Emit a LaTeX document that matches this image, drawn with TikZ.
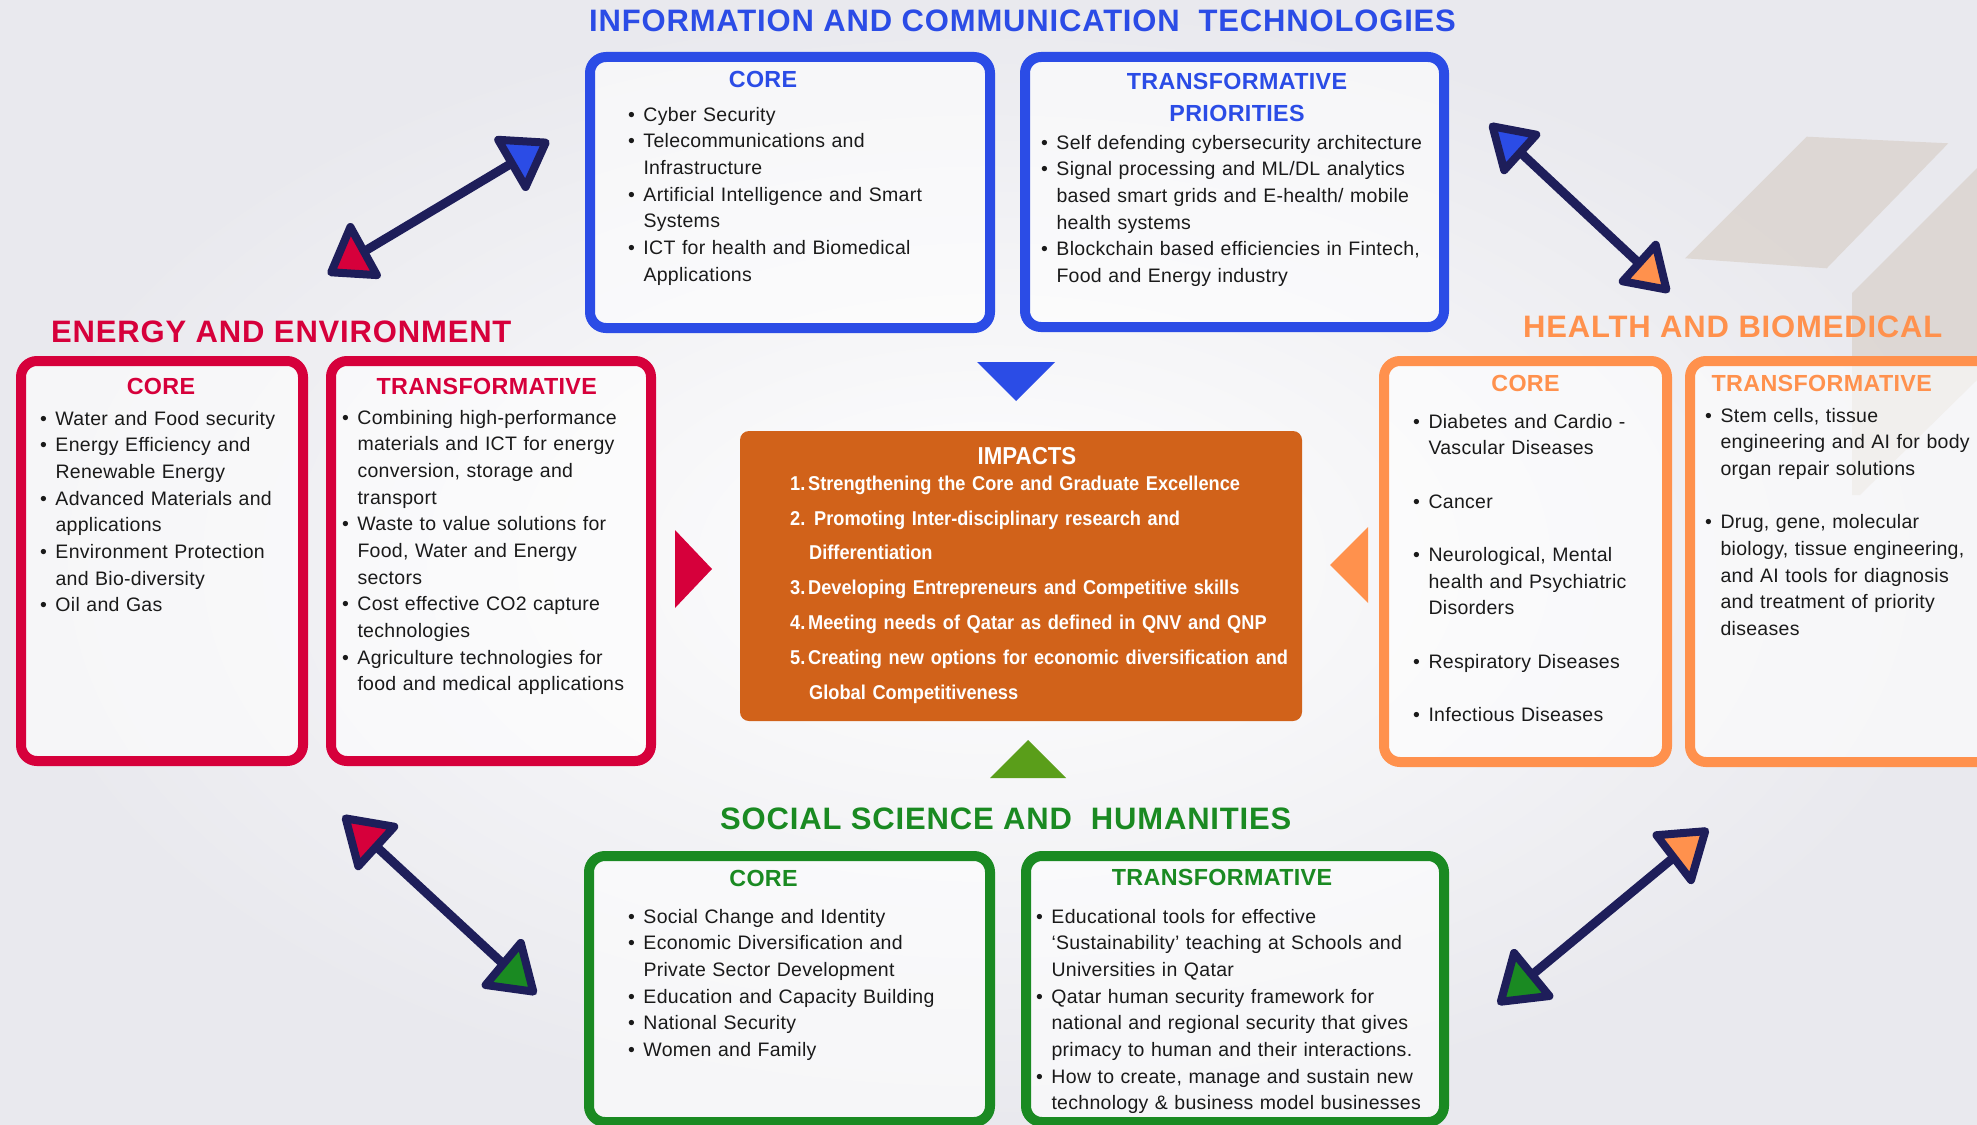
\documentclass[tikz,border=0pt]{standalone}
\usepackage{fontspec}
\setmainfont{Liberation Sans}
\newfontfamily\bodyf[LetterSpace=1.5]{Liberation Sans}
\newfontfamily\headf[LetterSpace=1.5]{Liberation Sans}
\newfontfamily\ttlf[LetterSpace=2.7]{Liberation Sans}
\newfontfamily\impf[FakeStretch=0.91]{Liberation Sans}
\newcommand\bfirst{\hangindent=15.5pt\hangafter=1\rule{0pt}{15pt}\makebox[15.5pt][l]{\textbullet}}
\newcommand\bi{\par\noindent\bfirst}
\newcommand\blankln{\par\noindent\mbox{}}
\newcommand\nl{\newline}
\definecolor{bgc}{HTML}{E9E9EE}
\definecolor{ictc}{HTML}{2B4CE6}
\definecolor{enc}{HTML}{D6003B}
\definecolor{hlc}{HTML}{FF914D}
\definecolor{soc}{HTML}{1A8A22}
\definecolor{navy}{HTML}{1E1E5A}
\definecolor{impc}{HTML}{D1621A}
\definecolor{txtc}{HTML}{1A1A1A}
\definecolor{beige}{HTML}{DCD5D0}
\definecolor{olive}{HTML}{5A9E1A}
\begin{document}
\begin{tikzpicture}[x=1pt,y=-1pt,
  box/.style={draw=#1, line width=10pt, rounded corners=16pt, fill=white, fill opacity=0.6, draw opacity=1, inner sep=0pt, outer sep=0pt},
  lst/.style={anchor=north west, inner sep=0pt, outer sep=0pt, text width=420pt, align=left, text=txtc,
    font={\bodyf\fontsize{19.5}{26.67}\selectfont\parindent=0pt\parskip=0pt}},
  hd/.style={anchor=base, inner sep=0pt, font={\headf\bfseries\fontsize{23.3}{28}\selectfont}},
  ttl/.style={anchor=base west, inner sep=0pt, font={\ttlf\bfseries\fontsize{31}{36}\selectfont}},
  shaft/.style={draw=navy, line width=9pt},
  tip/.style={fill=#1, draw=navy, line width=8pt, line join=round},
  pointer/.style={fill=#1, draw=none}
]
\useasboundingbox (0,0) rectangle (1977,1124);
\clip (0,0) rectangle (1977,1124);
% background
\fill[bgc] (0,0) rectangle (1977,1124);
\shade[inner color=white, outer color=bgc] (0,0) rectangle (1977,1124);
\fill[beige, opacity=0.85] (1806.7,136.7) -- (1948.3,143.3) -- (1826.7,268.3) -- (1685,258.3) -- cycle;
\fill[beige, opacity=0.85] (1852,293) -- (1977,168) -- (1977,380) -- (1860,495) -- (1852,495) -- cycle;

% section titles
\node[ttl, text=ictc] (tict) at (589,32) {INFORMATION AND COMMUNICATION\ \ TECHNOLOGIES};
\node[ttl, text=enc] (tene) at (51,342) {ENERGY AND ENVIRONMENT};
\node[ttl, text=hlc] (thl) at (1523,337) {HEALTH AND BIOMEDICAL};
\node[ttl, text=soc] (tsoc) at (720,829) {SOCIAL SCIENCE AND\ \ HUMANITIES};

% boxes
\node[box=ictc, minimum width=400pt, minimum height=271pt] (ictcore) at (790,192.5) {};
\node[box=ictc, minimum width=419pt, minimum height=270pt] (icttr) at (1234.5,192) {};
\node[box=enc, minimum width=282pt, minimum height=400pt] (encore) at (162,561) {};
\node[box=enc, minimum width=320pt, minimum height=400pt] (entr) at (491,561) {};
\node[box=hlc, minimum width=283pt, minimum height=401pt] (hlcore) at (1525.5,561.5) {};
\node[box=hlc, minimum width=350pt, minimum height=401pt] (hltr) at (1865,561.5) {};
\node[box=soc, minimum width=401pt, minimum height=266pt] (socore) at (789.5,989) {};
\node[box=soc, minimum width=418pt, minimum height=266pt] (sotr) at (1235,989) {};

% headings
\node[hd, text=ictc] (hictc) at (763,87.3) {CORE};
\node[hd, text=ictc] (hictt1) at (1237,89.3) {TRANSFORMATIVE};
\node[hd, text=ictc] (hictt2) at (1237,121.7) {PRIORITIES};
\node[hd, text=enc] (henc) at (161,394.3) {CORE};
\node[hd, text=enc] (hent) at (486.7,394.3) {TRANSFORMATIVE};
\node[hd, text=hlc] (hhlc) at (1525.5,391) {CORE};
\node[hd, text=hlc] (hhlt) at (1821.7,391) {TRANSFORMATIVE};
\node[hd, text=soc] (hsoc) at (763.5,886.7) {CORE};
\node[hd, text=soc] (hsot) at (1222,885.7) {TRANSFORMATIVE};

% lists
\node[lst] (lictc) at (628,106) {\bfirst Cyber Security\bi Telecommunications and\nl Infrastructure\bi Artificial Intelligence and Smart\nl Systems\bi ICT for health and Biomedical\nl Applications\par};
\node[lst] (lictt) at (1041,134) {\bfirst Self defending cybersecurity architecture\bi Signal processing and ML/DL analytics\nl based smart grids and E-health/ mobile\nl health systems\bi Blockchain based efficiencies in Fintech,\nl Food and Energy industry\par};
\node[lst] (lenc) at (40,410) {\bfirst Water and Food security\bi Energy Efficiency and\nl Renewable Energy\bi Advanced Materials and\nl applications\bi Environment Protection\nl and Bio-diversity\bi Oil and Gas\par};
\node[lst] (lent) at (342,409) {\bfirst Combining high-performance\nl materials and ICT for energy\nl conversion, storage and\nl transport\bi Waste to value solutions for\nl Food, Water and Energy\nl sectors\bi Cost effective CO2 capture\nl technologies\bi Agriculture technologies for\nl food and medical applications\par};
\node[lst] (lhlc) at (1413,413) {\bfirst Diabetes and Cardio -\nl Vascular Diseases\blankln\bi Cancer\blankln\bi Neurological, Mental\nl health and Psychiatric\nl Disorders\blankln\bi Respiratory Diseases\blankln\bi Infectious Diseases\par};
\node[lst] (lhlt) at (1705,407) {\bfirst Stem cells, tissue\nl engineering and AI for body\nl organ repair solutions\blankln\bi Drug, gene, molecular\nl biology, tissue engineering,\nl and AI tools for diagnosis\nl and treatment of priority\nl diseases\par};
\node[lst] (lsoc) at (628,908) {\bfirst Social Change and Identity\bi Economic Diversification and\nl Private Sector Development\bi Education and Capacity Building\bi National Security\bi Women and Family\par};
\node[lst] (lsot) at (1036,908) {\bfirst Educational tools for effective\nl ‘Sustainability’ teaching at Schools and\nl Universities in Qatar\bi Qatar human security framework for\nl national and regional security that gives\nl primacy to human and their interactions.\bi How to create, manage and sustain new\nl technology \& business model businesses\par};

% impacts
\node[fill=impc, rounded corners=9pt, minimum width=562pt, minimum height=290pt, inner sep=0pt] (imp) at (1021,576) {};
\node[anchor=base, inner sep=0pt, text=white, font={\impf\bfseries\fontsize{24.5}{28}\selectfont}] (himp) at (1027,464) {IMPACTS};
\node[anchor=north west, inner sep=0pt, text width=520pt, align=left, text=white,
  font={\impf\bfseries\fontsize{20}{34.8}\selectfont\parindent=0pt\parskip=0pt}] (limp) at (790,474)
  {\rule{0pt}{16pt}\makebox[18pt][l]{1.}Strengthening the Core and Graduate Excellence\\
   \makebox[24pt][l]{2.}Promoting Inter-disciplinary research and\\
   \hspace*{19pt}Differentiation\\
   \makebox[18pt][l]{3.}Developing Entrepreneurs and Competitive skills\\
   \makebox[18pt][l]{4.}Meeting needs of Qatar as defined in QNV and QNP\\
   \makebox[18pt][l]{5.}Creating new options for economic diversification and\\
   \hspace*{19pt}Global Competitiveness};

% pointers toward impacts
\fill[pointer=ictc] (977,362) -- (1055,362) -- (1016,401) -- cycle;
\fill[pointer=enc] (675,530) -- (675,608) -- (712,569) -- cycle;
\fill[pointer=hlc] (1368,527) -- (1368,603) -- (1330,565) -- cycle;
\fill[pointer=olive] (990,778) -- (1066,778) -- (1028,740) -- cycle;

% double arrows
\coordinate (a1s) at (352.7,258.3); \coordinate (a1e) at (523.3,156.3);
\coordinate (a2s) at (1511,143.7); \coordinate (a2e) at (1648.3,272);
\coordinate (a3s) at (366,837); \coordinate (a3e) at (513.3,973.3);
\coordinate (a4s) at (1521.3,983.7); \coordinate (a4e) at (1684.3,848.7);
\draw[shaft] (a1s) -- (a1e);
\draw[shaft] (a2s) -- (a2e);
\draw[shaft] (a3s) -- (a3e);
\draw[shaft] (a4s) -- (a4e);
\filldraw[tip=ictc] (545.7,142.6) -- (498.2,139.8) -- (525.6,187) -- cycle;
\filldraw[tip=enc] (331.2,272.3) -- (350.4,227) -- (376.9,275.1) -- cycle;
\filldraw[tip=ictc] (1492.6,126.4) -- (1536.3,134.7) -- (1504.2,170.2) -- cycle;
\filldraw[tip=hlc] (1655.7,244.8) -- (1622.7,281.3) -- (1666.4,289.5) -- cycle;
\filldraw[tip=enc] (345.7,818.4) -- (394.3,826.7) -- (358.3,866.2) -- cycle;
\filldraw[tip=soc] (520.8,942.9) -- (533.3,991.6) -- (485.6,985) -- cycle;
\filldraw[tip=hlc] (1656.5,835.2) -- (1705.2,831.2) -- (1691,880.1) -- cycle;
\filldraw[tip=soc] (1514.1,952.9) -- (1500.8,1001.7) -- (1549.4,996) -- cycle;
\end{tikzpicture}
\end{document}
